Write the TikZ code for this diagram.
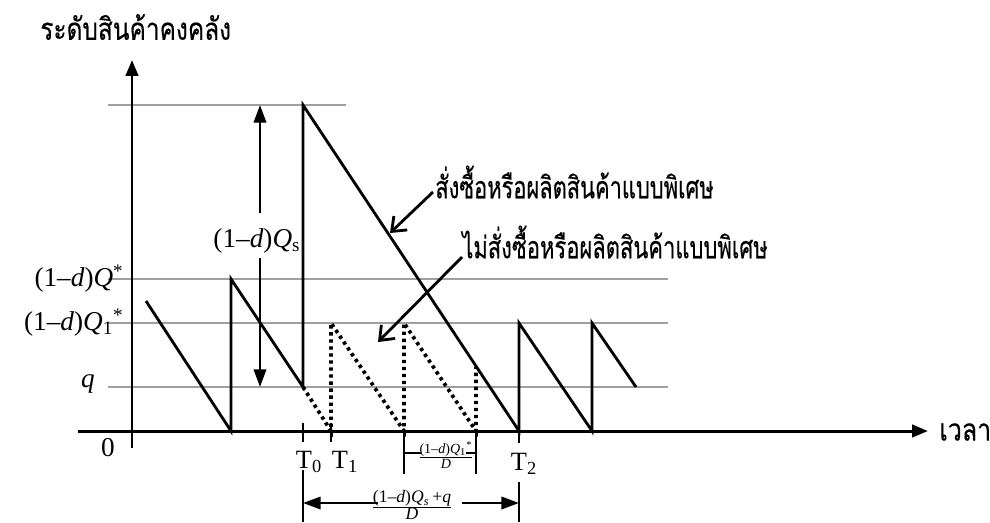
\documentclass[tikz,border=0pt]{standalone}
\usepackage{fontspec}
\usepackage{graphicx}
\setmainfont{Liberation Serif}
\newfontfamily\thaifont[Script=Thai,FakeBold=0.4]{Loma}
\usetikzlibrary{arrows.meta}
\begin{document}
\begin{tikzpicture}[x=0.02cm,y=-0.02cm,
  solid/.style={line width=1.6pt,black,line join=miter},
  gridline/.style={line width=0.6pt,gray!75},
  dotline/.style={line width=2.1pt,dash pattern=on 1.9pt off 2.1pt},
  axis/.style={line width=1.7pt,-{Triangle[length=9pt,width=7pt]}},
  extline/.style={line width=1.1pt},
  lbl/.style={font=\fontsize{15.5}{17}\selectfont,inner sep=0pt},
  tlbl/.style={font=\fontsize{15}{17}\selectfont,inner sep=0pt},
  thlbl/.style={font=\thaifont\fontsize{13.5}{16}\selectfont,inner sep=0pt},
  pointer/.style={line width=1.6pt,-{Straight Barb[length=7pt,width=11pt,line width=1.6pt]}},
  dimarrow/.style={line width=1.4pt,-{Triangle[length=10pt,width=7pt]}}]
\useasboundingbox (0,0) rectangle (990,522);

% coordinates
\coordinate (O) at (132,431);
\coordinate (ytop) at (132,60);
\coordinate (ybot) at (132,448);
\coordinate (xl) at (78,431);
\coordinate (xr) at (928,431);

% grid lines
\draw[gridline] (108,105) -- (346,105);
\draw[gridline] (108,279) -- (668,279);
\draw[gridline] (108,323) -- (668,323);
\draw[gridline] (108,387) -- (668,387);

% axes
\draw[axis] (ybot) -- (ytop);
\draw[axis] (xl) -- (xr);

% solid sawtooth
\coordinate (a0) at (146,301);
\coordinate (a1) at (231,431);
\coordinate (a2) at (231,279);
\coordinate (a3) at (303,387);
\coordinate (a4) at (303,105);
\coordinate (a5) at (519,431);
\coordinate (a6) at (519,323);
\coordinate (a7) at (592,431);
\coordinate (a8) at (592,323);
\coordinate (a9) at (636,387);
\draw[solid] (a0) -- (a1) -- (a2) -- (a3) -- (a4) -- (a5) -- (a6) -- (a7) -- (a8) -- (a9);

% dotted sawtooth
\coordinate (b1) at (331,431);
\coordinate (b2) at (331,323);
\coordinate (b3) at (404,431);
\coordinate (b4) at (404,323);
\coordinate (b5) at (476,431);
\coordinate (b6) at (476,367);
\draw[dotline] (a3) -- (b1) -- (b2) -- (b3) -- (b4) -- (b5) -- (b6);

% ticks
\draw[solid] (303,423) -- (303,442);
\draw[solid] (331,423) -- (331,442);
\draw[solid] (519,431) -- (519,443);

% tick labels
\node[tlbl] (T0) at (309,462) {T\textsubscript{0}};
\node[tlbl] (T1) at (345,462) {T\textsubscript{1}};
\node[tlbl] (T2) at (524,464) {T\textsubscript{2}};

% axis labels
\node[lbl,anchor=east] (lQ) at (124,279) {(1–\textit{d})\textit{Q}\textsuperscript{*}};
\node[lbl,anchor=east] (lQ1) at (124,323) {(1–\textit{d})\textit{Q}\textsubscript{1}\textsuperscript{*}};
\node[lbl] (lq) at (88,384) {\textit{q}};
\node[lbl] (l0) at (108,448) {0};
\node[thlbl,anchor=west] (ylab) at (40,27) {\scalebox{1.03}[1.3]{ระดับสินค้าคงคลัง}};
\node[thlbl,anchor=west] (xlab) at (939,432) {\scalebox{1.05}[1.3]{เวลา}};

% (1-d)Qs double arrow
\node[lbl] (lQs) at (257,241) {(1–\textit{d})\textit{Q}\textsubscript{s}};
\coordinate (qsTop) at (260,105);
\coordinate (qsBot) at (260,387);
\draw[dimarrow] (260,213) -- (qsTop);
\draw[dimarrow] (260,258) -- (qsBot);

% Thai labels with pointers
\node[thlbl,anchor=west] (lab1) at (435,182) {\scalebox{0.92}[1.3]{สั่งซื้อหรือผลิตสินค้าแบบพิเศษ}};
\node[thlbl,anchor=west] (lab2) at (462,242) {\scalebox{0.925}[1.3]{ไม่สั่งซื้อหรือผลิตสินค้าแบบพิเศษ}};
\coordinate (p1s) at (433,192);
\coordinate (p1e) at (390,233);
\coordinate (p2s) at (462,257);
\coordinate (p2e) at (378,342);
\draw[pointer] (p1s) -- (p1e);
\draw[pointer] (p2s) -- (p2e);

% small dimension
\draw[extline] (404,431) -- (404,474);
\draw[extline] (476,431) -- (476,474);
\draw[extline] (404,453) -- (421,453);
\draw[extline] (466,453) -- (476,453);
\node[inner sep=0pt,font=\fontsize{8}{9}\selectfont] (dimS) at (446,455)
  {$\frac{\mbox{(1–\textit{d})\textit{Q}\textsubscript{1}\textsuperscript{*}}}{\mbox{\textit{D}}}$};

% big dimension
\draw[extline] (303,470) -- (303,522);
\draw[extline] (519,482) -- (519,522);
\coordinate (dL) at (303,503);
\coordinate (dR) at (519,503);
\draw[dimarrow] (378,503) -- (dL);
\draw[dimarrow] (462,503) -- (dR);
\node[inner sep=0pt,font=\fontsize{10}{11}\selectfont] (dimB) at (412,505)
  {$\frac{\mbox{(1–\textit{d})\textit{Q}\textsubscript{\textit{s}}\,+\textit{q}}}{\mbox{\textit{D}}}$};
\end{tikzpicture}
\end{document}
